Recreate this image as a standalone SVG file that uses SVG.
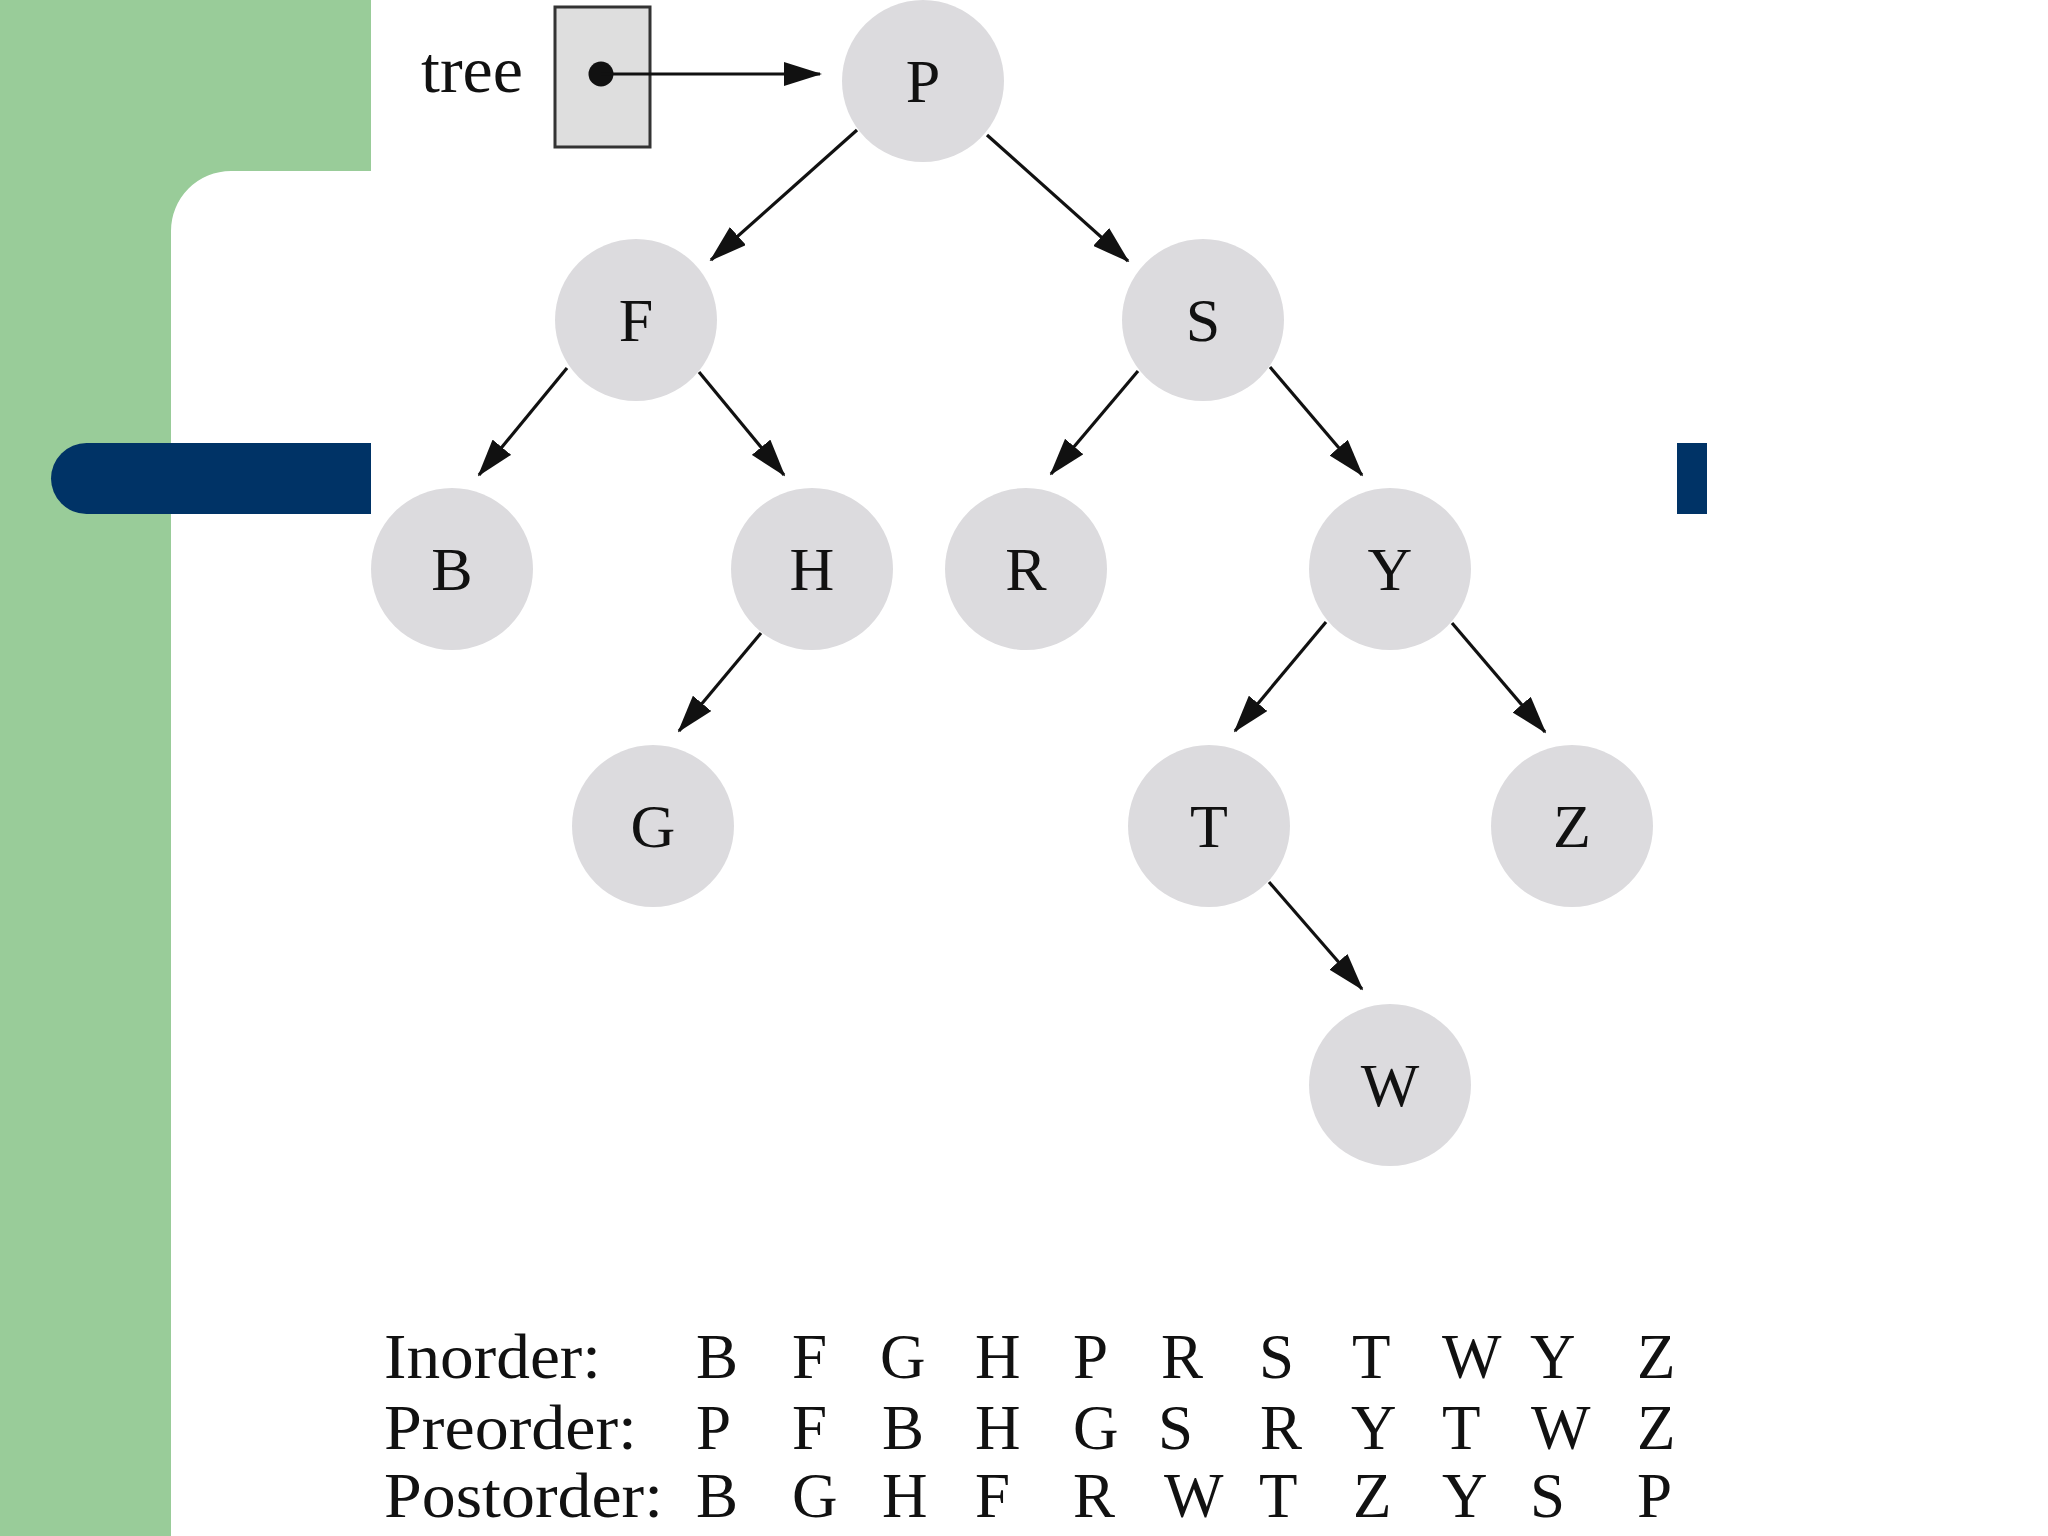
<svg xmlns="http://www.w3.org/2000/svg" width="2048" height="1536" viewBox="0 0 2048 1536">
<style>
.node{fill:#dcdbde}
.lbl{font-family:"Liberation Serif","DejaVu Serif",serif;font-size:62px;fill:#111;text-anchor:middle}
.edge{stroke:#111;stroke-width:3.2;fill:none;marker-end:url(#ah)}
.trav{font-family:"Liberation Serif","DejaVu Serif",serif;font-size:63px;fill:#111}
</style>
<defs>
<marker id="ah" viewBox="0 0 38 24" refX="36" refY="12" markerWidth="38" markerHeight="24" markerUnits="userSpaceOnUse" orient="auto">
<path d="M0,0 L38,12 L0,24 Z" fill="#111"/>
</marker>
</defs>
<rect width="2048" height="1536" fill="#ffffff"/>
<path d="M0,0 H371 V171 H231 A60,60 0 0 0 171,231 V1536 H0 Z" fill="#99cc99"/>
<path d="M86.5,443 H371 V514 H86.5 A35.5,35.5 0 0 1 86.5,443 Z" fill="#003366"/>
<rect x="1677" y="443" width="30" height="71" fill="#003366"/>

<g id="tree-pointer">
<text x="421" y="92" font-family="Liberation Serif, DejaVu Serif, serif" font-size="66" fill="#111" textLength="102" lengthAdjust="spacingAndGlyphs">tree</text>
<rect x="555" y="7" width="95" height="140" fill="#dedede" stroke="#333" stroke-width="3"/>
<circle cx="601" cy="74" r="12.5" fill="#111"/>
</g>

<g id="connectors">
<line class="edge" x1="601" y1="74" x2="820" y2="74"/>
<line class="edge" x1="857" y1="130" x2="711" y2="260"/>
<line class="edge" x1="987" y1="135" x2="1128" y2="261"/>
<line class="edge" x1="567" y1="368" x2="479" y2="475"/>
<line class="edge" x1="699" y1="372" x2="784" y2="475"/>
<line class="edge" x1="1138" y1="371" x2="1051" y2="474"/>
<line class="edge" x1="1270" y1="367" x2="1362" y2="475"/>
<line class="edge" x1="761" y1="633" x2="679" y2="731"/>
<line class="edge" x1="1326" y1="622" x2="1235" y2="731"/>
<line class="edge" x1="1452" y1="623" x2="1545" y2="732"/>
<line class="edge" x1="1269" y1="882" x2="1362" y2="989"/>
</g>

<g id="node-P"><circle class="node" cx="923" cy="81" r="81"/><text class="lbl" x="923" y="102">P</text></g>
<g id="node-F"><circle class="node" cx="636" cy="320" r="81"/><text class="lbl" x="636" y="341">F</text></g>
<g id="node-S"><circle class="node" cx="1203" cy="320" r="81"/><text class="lbl" x="1203" y="341">S</text></g>
<g id="node-B"><circle class="node" cx="452" cy="569" r="81"/><text class="lbl" x="452" y="590">B</text></g>
<g id="node-H"><circle class="node" cx="812" cy="569" r="81"/><text class="lbl" x="812" y="590">H</text></g>
<g id="node-R"><circle class="node" cx="1026" cy="569" r="81"/><text class="lbl" x="1026" y="590">R</text></g>
<g id="node-Y"><circle class="node" cx="1390" cy="569" r="81"/><text class="lbl" x="1390" y="590">Y</text></g>
<g id="node-G"><circle class="node" cx="653" cy="826" r="81"/><text class="lbl" x="653" y="847">G</text></g>
<g id="node-T"><circle class="node" cx="1209" cy="826" r="81"/><text class="lbl" x="1209" y="847">T</text></g>
<g id="node-Z"><circle class="node" cx="1572" cy="826" r="81"/><text class="lbl" x="1572" y="847">Z</text></g>
<g id="node-W"><circle class="node" cx="1390" cy="1085" r="81"/><text class="lbl" x="1390" y="1106">W</text></g>

<g id="traversals">
<text class="trav" x="384" y="1378" textLength="217" lengthAdjust="spacingAndGlyphs">Inorder:</text>
<text class="trav" x="384" y="1449" textLength="253" lengthAdjust="spacingAndGlyphs">Preorder:</text>
<text class="trav" x="384" y="1517" textLength="279" lengthAdjust="spacingAndGlyphs">Postorder:</text>
<text class="trav" y="1378"><tspan x="696">B</tspan><tspan x="792">F</tspan><tspan x="880">G</tspan><tspan x="975">H</tspan><tspan x="1073">P</tspan><tspan x="1161">R</tspan><tspan x="1259">S</tspan><tspan x="1352">T</tspan><tspan x="1442">W</tspan><tspan x="1530">Y</tspan><tspan x="1637">Z</tspan></text>
<text class="trav" y="1449"><tspan x="696">P</tspan><tspan x="792">F</tspan><tspan x="882">B</tspan><tspan x="975">H</tspan><tspan x="1073">G</tspan><tspan x="1158">S</tspan><tspan x="1260">R</tspan><tspan x="1351">Y</tspan><tspan x="1442">T</tspan><tspan x="1531">W</tspan><tspan x="1637">Z</tspan></text>
<text class="trav" y="1517"><tspan x="696">B</tspan><tspan x="792">G</tspan><tspan x="882">H</tspan><tspan x="975">F</tspan><tspan x="1073">R</tspan><tspan x="1164">W</tspan><tspan x="1259">T</tspan><tspan x="1353">Z</tspan><tspan x="1442">Y</tspan><tspan x="1530">S</tspan><tspan x="1637">P</tspan></text>
</g>
</svg>
